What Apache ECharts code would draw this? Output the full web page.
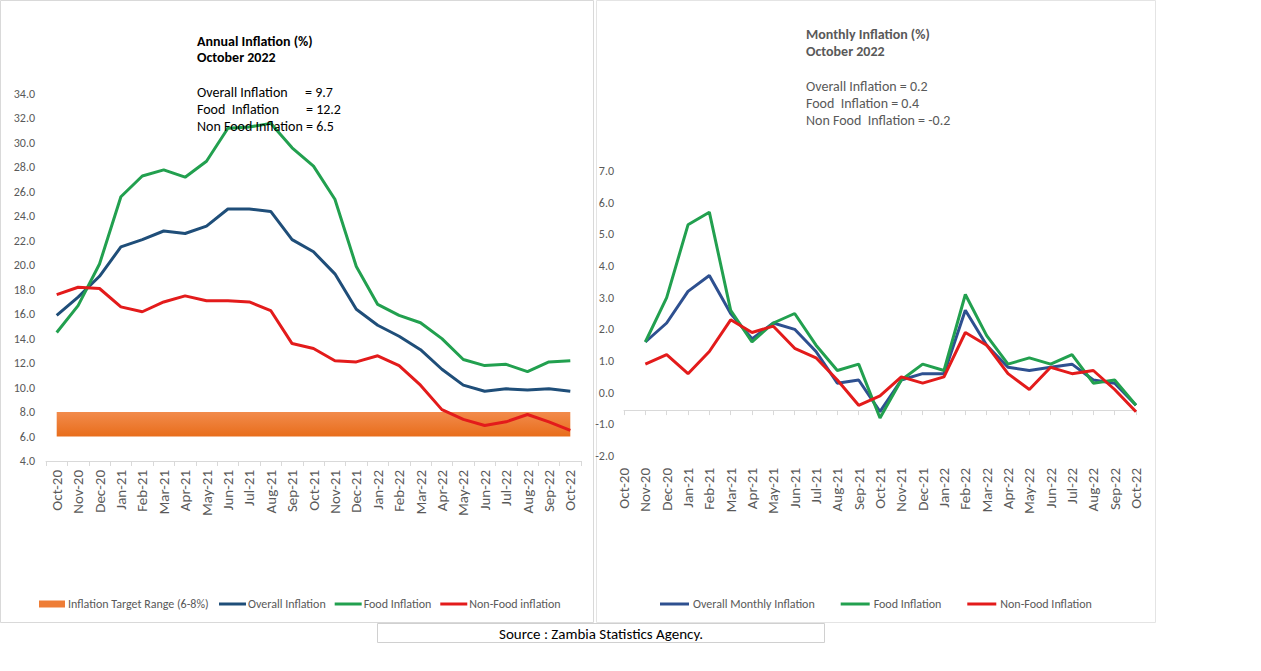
<!DOCTYPE html>
<html>
<head>
<meta charset="utf-8">
<script src="https://cdn.jsdelivr.net/npm/echarts@6/dist/echarts.min.js"></script>
<style>
html,body{margin:0;padding:0;background:#fff;}
#chart{width:1261px;height:671px;}
</style>
</head>
<body>
<div id="chart"></div>
<script>
const categories = ['Oct-20','Nov-20','Dec-20','Jan-21','Feb-21','Mar-21','Apr-21','May-21','Jun-21','Jul-21','Aug-21','Sep-21','Oct-21','Nov-21','Dec-21','Jan-22','Feb-22','Mar-22','Apr-22','May-22','Jun-22','Jul-22','Aug-22','Sep-22','Oct-22'];

// Annual inflation (%)
const annualOverall = [15.9,17.4,19.1,21.5,22.1,22.8,22.6,23.2,24.6,24.6,24.4,22.1,21.1,19.3,16.4,15.1,14.2,13.1,11.5,10.2,9.7,9.9,9.8,9.9,9.7];
const annualFood    = [14.5,16.7,20.1,25.6,27.3,27.8,27.2,28.5,31.2,31.3,31.6,29.6,28.1,25.4,19.9,16.8,15.9,15.3,14.0,12.3,11.8,11.9,11.3,12.1,12.2];
const annualNonFood = [17.6,18.2,18.1,16.6,16.2,17.0,17.5,17.1,17.1,17.0,16.3,13.6,13.2,12.2,12.1,12.6,11.8,10.2,8.2,7.4,6.9,7.2,7.8,7.2,6.5];
const targetLow  = [6,6,6,6,6,6,6,6,6,6,6,6,6,6,6,6,6,6,6,6,6,6,6,6,6];
const targetHigh = [8,8,8,8,8,8,8,8,8,8,8,8,8,8,8,8,8,8,8,8,8,8,8,8,8];

// Monthly inflation (%)
const monthlyOverall = [null,1.6,2.2,3.2,3.7,2.5,1.7,2.2,2.0,1.3,0.3,0.4,-0.6,0.4,0.6,0.6,2.6,1.5,0.8,0.7,0.8,0.9,0.4,0.3,-0.4];
const monthlyFood    = [null,1.6,3.0,5.3,5.7,2.6,1.6,2.2,2.5,1.5,0.7,0.9,-0.8,0.4,0.9,0.7,3.1,1.8,0.9,1.1,0.9,1.2,0.3,0.4,-0.4];
const monthlyNonFood = [null,0.9,1.2,0.6,1.3,2.3,1.9,2.1,1.4,1.1,0.4,-0.4,-0.1,0.5,0.3,0.5,1.9,1.5,0.6,0.1,0.8,0.6,0.7,0.1,-0.6];

const annualTicks = {min: 4, max: 34, interval: 2};
const monthlyTicks = {min: -2, max: 7, interval: 1};
const monthlyAxisCross = -0.55;

const FONT = 'Carlito, Lato, "Noto Sans", sans-serif';
const GRAY = '#595959';
const BLUE = '#1f4e79', BLUE2 = '#2e5090', GREEN = '#22a04f', RED = '#e31b1b';

const chart = echarts.init(document.getElementById('chart'), null, {renderer: 'svg'});

const grid1Top = 171, grid1Bottom = 671 - 456;
const grid1Height = 671 - grid1Top - grid1Bottom;
const crossOffset = -((monthlyAxisCross - monthlyTicks.min) / (monthlyTicks.max - monthlyTicks.min)) * grid1Height;

function lineSeries(name, data, color, xi, yi, width) {
  return {
    name: name, type: 'line', data: data, xAxisIndex: xi, yAxisIndex: yi,
    symbol: 'none', smooth: false, connectNulls: false,
    lineStyle: {color: color, width: width},
    itemStyle: {color: color},
    z: 3
  };
}

const bandDiff = targetHigh.map((h, i) => h - targetLow[i]);

function txt(x, y, text, opts) {
  return {
    type: 'text', x: x, y: y, silent: true, z: 20,
    style: Object.assign({text: text, fill: '#000', font: '14px ' + FONT, verticalAlign: 'middle', align: 'left'}, opts || {})
  };
}

const option = {
  backgroundColor: '#fff',
  textStyle: {fontFamily: FONT},
  animation: false,
  grid: [
    {left: 46, right: 1261 - 581, top: 94, bottom: 671 - 461},
    {left: 624, right: 1261 - 1136, top: grid1Top, bottom: grid1Bottom}
  ],
  xAxis: [
    {
      type: 'category', data: categories, gridIndex: 0, boundaryGap: true,
      axisLine: {lineStyle: {color: '#d9d9d9', width: 1}},
      axisTick: {show: true, length: 5, lineStyle: {color: '#d9d9d9'}},
      axisLabel: {rotate: 90, interval: 0, color: GRAY, fontSize: 15, margin: 9, fontFamily: FONT},
      splitLine: {show: false}
    },
    {
      type: 'category', data: categories, gridIndex: 1, boundaryGap: false,
      axisLine: {show: false}, axisTick: {show: false},
      axisLabel: {rotate: 90, interval: 0, color: GRAY, fontSize: 15, margin: 12, fontFamily: FONT},
      splitLine: {show: false}
    },
    {
      type: 'category', data: categories, gridIndex: 1, boundaryGap: false, position: 'bottom', offset: crossOffset,
      axisLine: {show: true, onZero: false, lineStyle: {color: '#d9d9d9', width: 1}},
      axisTick: {show: true, length: 5, interval: 0, lineStyle: {color: '#d9d9d9'}},
      axisLabel: {show: false},
      splitLine: {show: false}
    }
  ],
  yAxis: [
    {
      type: 'value', gridIndex: 0, min: annualTicks.min, max: annualTicks.max, interval: annualTicks.interval,
      axisLine: {show: false}, axisTick: {show: false}, splitLine: {show: false},
      axisLabel: {color: GRAY, fontSize: 12, margin: 11, formatter: v => v.toFixed(1), fontFamily: FONT}
    },
    {
      type: 'value', gridIndex: 1, min: monthlyTicks.min, max: monthlyTicks.max, interval: monthlyTicks.interval,
      axisLine: {show: false}, axisTick: {show: false}, splitLine: {show: false},
      axisLabel: {color: GRAY, fontSize: 12, margin: 10, formatter: v => v.toFixed(1), fontFamily: FONT}
    }
  ],
  legend: [
    {
      data: ['Inflation Target Range (6-8%)'], left: 39, top: 598, icon: 'rect',
      itemWidth: 26, itemHeight: 7, itemGap: 8, padding: 0,
      textStyle: {color: GRAY, fontSize: 12, fontFamily: FONT, padding: [0,0,0,-2]},
      selectedMode: false
    },
    {
      data: ['Overall Inflation', 'Food Inflation', 'Non-Food inflation'], left: 219, top: 598, icon: 'rect',
      itemWidth: 27, itemHeight: 3, itemGap: 9, padding: 0,
      textStyle: {color: GRAY, fontSize: 12, fontFamily: FONT, padding: [0,0,0,-3]},
      selectedMode: false
    },
    {
      data: ['Overall Monthly Inflation', 'Food Inflation', 'Non-Food Inflation'], left: 660, top: 598, icon: 'rect',
      itemWidth: 29, itemHeight: 3, itemGap: 26, padding: 0,
      textStyle: {color: GRAY, fontSize: 12, fontFamily: FONT, padding: [0,0,0,-1]},
      selectedMode: false
    }
  ],
  series: [
    {
      name: 'targetBase', type: 'line', stack: 'band', data: targetLow, xAxisIndex: 0, yAxisIndex: 0,
      symbol: 'none', lineStyle: {width: 0, opacity: 0}, silent: true, z: 1
    },
    {
      name: 'Inflation Target Range (6-8%)', type: 'line', stack: 'band', data: bandDiff, xAxisIndex: 0, yAxisIndex: 0,
      symbol: 'none', lineStyle: {width: 0, opacity: 0}, silent: true, z: 1,
      itemStyle: {color: '#ee7d36'},
      areaStyle: {
        opacity: 1,
        color: new echarts.graphic.LinearGradient(0, 0, 0, 1, [
          {offset: 0, color: '#f28b4c'},
          {offset: 1, color: '#e86d1b'}
        ])
      }
    },
    lineSeries('Overall Inflation', annualOverall, BLUE, 0, 0, 3),
    lineSeries('Food Inflation', annualFood, GREEN, 0, 0, 3),
    lineSeries('Non-Food inflation', annualNonFood, RED, 0, 0, 3),
    lineSeries('Overall Monthly Inflation', monthlyOverall, BLUE2, 1, 1, 3),
    lineSeries('Food Inflation', monthlyFood, GREEN, 1, 1, 3),
    lineSeries('Non-Food Inflation', monthlyNonFood, RED, 1, 1, 3)
  ],
  graphic: [
    {type: 'rect', shape: {x: 0.5, y: 0.5, width: 593, height: 622}, style: {fill: 'none', stroke: '#d9d9d9', lineWidth: 1}, silent: true, z: -10},
    {type: 'rect', shape: {x: 596.5, y: 0.5, width: 559, height: 622}, style: {fill: 'none', stroke: '#e4e4e4', lineWidth: 1}, silent: true, z: -10},
    {type: 'rect', shape: {x: 377.5, y: 623.5, width: 447, height: 19}, style: {fill: '#fff', stroke: '#d0d0d0', lineWidth: 1}, silent: true, z: 5},
    txt(601, 634, 'Source : Zambia Statistics Agency.', {align: 'center', font: '15px ' + FONT, fill: '#000'}),

    txt(197, 41, 'Annual Inflation (%)', {font: 'bold 14px ' + FONT}),
    txt(197, 57, 'October 2022', {font: 'bold 14px ' + FONT}),
    txt(197, 92, 'Overall Inflation', {}),
    txt(305, 92, '= 9.7', {}),
    txt(197, 109, 'Food  Inflation', {}),
    txt(306, 109, '= 12.2', {}),
    txt(197, 126, 'Non Food Inflation', {}),
    txt(306, 126, '= 6.5', {}),

    txt(806, 34, 'Monthly Inflation (%)', {font: 'bold 14px ' + FONT, fill: GRAY}),
    txt(806, 51, 'October 2022', {font: 'bold 14px ' + FONT, fill: GRAY}),
    txt(806, 86, 'Overall Inflation = 0.2', {fill: GRAY}),
    txt(806, 103, 'Food  Inflation = 0.4', {fill: GRAY}),
    txt(806, 120, 'Non Food  Inflation = -0.2', {fill: GRAY})
  ]
};

chart.setOption(option);
</script>
</body>
</html>
